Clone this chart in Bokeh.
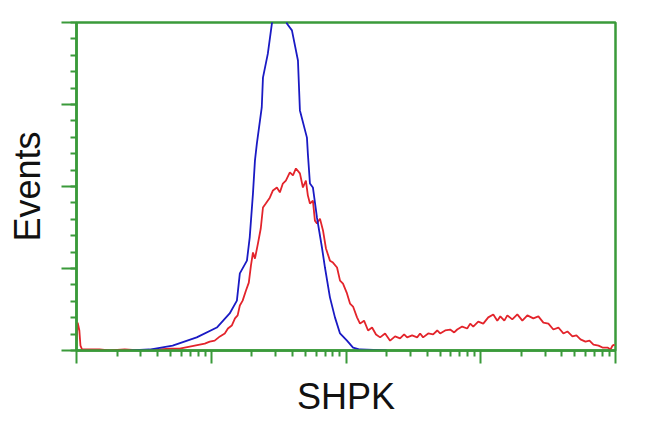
from bokeh.plotting import figure
from bokeh.models import Range1d, FixedTicker
from bokeh.embed import file_html
from bokeh.resources import INLINE

# Blue histogram (control): intensity (log axis) and event counts
blue_x = [2.5, 3.49, 5.17, 7.80, 11.0, 13.7, 15.5, 16.3, 18.4, 19.3, 20.4, 21.1, 21.8,
          23.7, 24.2, 26.3, 28.2, 30.2, 32.3, 34.6, 36.4, 39.7, 44.0, 45.5, 51.3, 52.1,
          54.0, 56.8, 60.9, 66.3, 69.8, 76.0, 82.8, 90.3, 101.7, 112.8, 127.1, 200.0]
blue_y = [0.0, 0.3, 1.5, 4.0, 7.0, 11.3, 15.2, 23.5, 27.4, 34.5, 47.9, 57.9, 63.1,
          74.1, 83.2, 90.5, 99.7, 108.0, 112.0, 106.0, 99.7, 97.6, 88.4, 73.2, 64.9, 60.1,
          50.9, 49.7, 40.5, 31.4, 25.3, 16.2, 10.1, 5.2, 3.0, 0.9, 0.3, 0.0]

# Red histogram (SHPK transfected)
red_x = [1.00, 1.02, 1.035, 1.05, 1.07, 1.10, 1.48, 1.76, 2.28, 2.94, 3.49, 4.14, 4.91,
         5.83, 6.92, 8.21, 8.95, 9.75, 10.6, 11.6, 12.6, 13.3, 14.2, 15.0, 15.7, 16.3,
         17.1, 18.1, 19.0, 19.7, 20.4, 21.1, 22.2, 23.3, 24.2, 25.4, 27.2, 28.7, 30.7,
         32.3, 34.0, 35.8, 38.3, 40.4, 42.5, 45.5, 47.9, 50.4, 52.1, 54.0, 56.8, 58.8,
         60.9, 64.1, 67.5, 71.0, 76.0, 80.0, 85.8, 90.3, 95.0, 101.7, 107.1, 112.8, 120.7,
         127.1, 136.1, 145.8, 156.1, 167.0, 179.1, 195.0, 212.5, 231.3, 251.9, 270.0,
         284.2, 309.6, 337.3, 354.8, 373.4, 407.4, 443.2, 475.3, 499.6, 544.5, 592.8,
         635.3, 668.7, 727.8, 793.3, 835.6, 879.7, 957.9, 1044, 1137, 1239, 1327, 1397,
         1496, 1575, 1714, 1868, 2036, 2218, 2456, 2677, 2915, 3177, 3459, 3767, 4104,
         4397, 4789, 5129, 5495, 5984, 6412, 6861, 7482, 8004, 8723, 9183, 9500, 9840]
red_y = [3.0, 8.5, 7.3, 6.1, 1.5, 0.3, 0.3, 0.0, 0.3, 0.0, 0.2, 0.3, 0.6,
         0.6, 1.2, 1.8, 2.1, 2.7, 3.0, 4.3, 5.2, 6.7, 7.6, 9.8, 10.7, 13.7,
         15.2, 18.3, 20.7, 25.9, 29.9, 28.0, 32.6, 37.2, 43.6, 44.8, 46.6, 48.8, 49.7,
         48.2, 50.9, 51.8, 54.3, 53.4, 55.5, 54.0, 49.7, 51.8, 47.3, 44.8, 45.7, 39.6,
         38.7, 40.2, 36.6, 31.1, 27.4, 26.8, 25.3, 21.3, 20.4, 17.4, 14.3, 13.4, 10.1,
         8.2, 9.1, 6.1, 7.0, 4.9, 4.0, 5.2, 3.0, 4.3, 3.7, 4.9,
         4.0, 4.6, 4.0, 5.2, 4.0, 5.2, 4.9, 6.1, 5.2, 6.1, 6.4,
         5.5, 6.4, 7.3, 6.7, 8.2, 7.3, 8.8, 8.2, 10.1, 11.0, 9.1, 10.4,
         9.1, 10.7, 9.5, 11.0, 9.1, 10.7, 9.8, 10.4, 8.5, 8.2, 6.4, 7.0, 5.2,
         5.8, 4.3, 4.6, 3.4, 2.7, 3.0, 1.8, 1.5, 0.9, 0.9, 0.3, 1.5, 1.8]

x_major = [1, 10, 100, 1000, 10000]
x_minor = [m * 10 ** e for e in range(4) for m in range(2, 10)]
y_major = [0, 25, 50, 75, 100]
y_minor = list(range(0, 101, 5))

GREEN = "#3a9a3a"

p = figure(width=634, height=424, x_axis_type="log", output_backend="svg",
           toolbar_location=None, x_range=Range1d(1, 10000), y_range=Range1d(0, 100),
           min_border_left=76, min_border_right=19, min_border_top=22, min_border_bottom=74)
p.grid.visible = False
p.background_fill_color = "white"
p.border_fill_color = "white"
p.outline_line_color = GREEN
p.outline_line_width = 2.5

p.line(red_x, red_y, line_color="#e3242b", line_width=1.8)
p.line(blue_x, blue_y, line_color="#1a1ac4", line_width=1.8)

xa = p.xaxis[0]
xa.ticker = FixedTicker(ticks=x_major, minor_ticks=x_minor)
ya = p.yaxis[0]
ya.ticker = FixedTicker(ticks=y_major, minor_ticks=y_minor)
for ax in (xa, ya):
    ax.axis_line_color = GREEN
    ax.axis_line_width = 2.5
    ax.major_tick_line_color = GREEN
    ax.minor_tick_line_color = GREEN
    ax.major_tick_line_width = 2
    ax.minor_tick_line_width = 2
    ax.major_tick_in = 0
    ax.minor_tick_in = 0
    ax.major_label_text_font_size = "1px"
    ax.major_label_text_color = None
    ax.major_label_standoff = 0
    ax.axis_label_text_font = "Liberation Sans"
    ax.axis_label_text_font_size = "36px"
    ax.axis_label_text_font_style = "normal"
    ax.axis_label_text_color = "#111111"

xa.major_tick_out = 13
xa.minor_tick_out = 6
xa.axis_label = "SHPK"
xa.axis_label_standoff = 12
ya.major_tick_out = 15
ya.minor_tick_out = 6
ya.axis_label = "Events"
ya.axis_label_standoff = 14

open("out.html", "w").write(file_html(p, INLINE))
